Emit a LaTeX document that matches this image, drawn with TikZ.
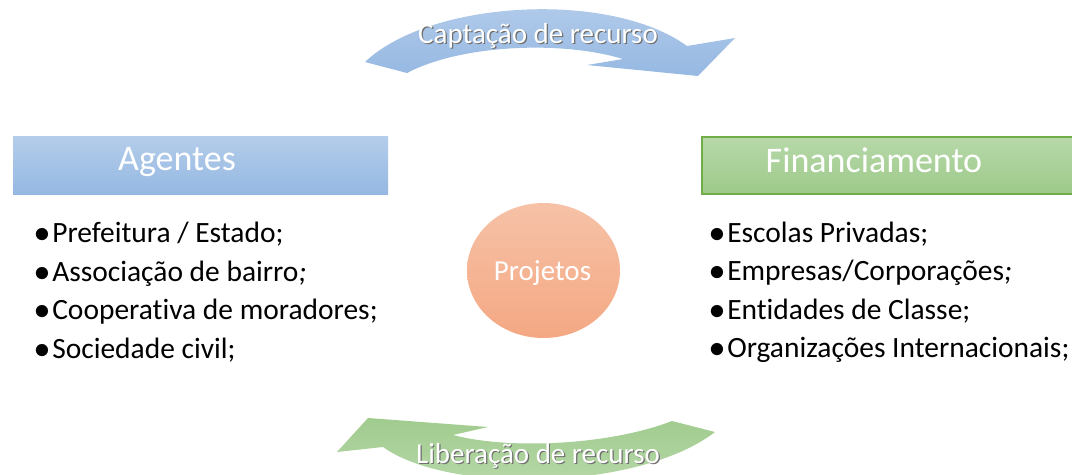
\documentclass[tikz,border=0pt]{standalone}
\usepackage{fontspec}
\setmainfont{Carlito}[Ligatures=NoCommon]
\usepackage{graphicx}
\usepackage{tikz}

\definecolor{agtop}{RGB}{180,205,234}
\definecolor{agbot}{RGB}{149,184,226}
\definecolor{fintop}{RGB}{183,216,169}
\definecolor{finbot}{RGB}{157,202,138}
\definecolor{finline}{RGB}{112,173,71}
\definecolor{projtop}{RGB}{246,194,167}
\definecolor{projbot}{RGB}{244,168,131}
\definecolor{captop}{RGB}{182,206,235}
\definecolor{capbot}{RGB}{150,184,226}
\definecolor{libtop}{RGB}{160,203,142}
\definecolor{libbot}{RGB}{186,218,172}
\definecolor{txtshadow}{RGB}{110,110,110}

\newcommand{\listfont}{\fontsize{22.1}{27}\selectfont}
\newcommand{\arrowfont}{\fontsize{21.75}{26}\selectfont}
\newcommand{\headfont}{\fontsize{27}{32}\selectfont}
\newcommand{\blt}{\llap{\scalebox{1.15}{$\bullet$}\hspace{1.5pt}}}
\newcommand{\shtext}[1]{\rlap{\hspace{0.9pt}\raisebox{-0.9pt}{\color{txtshadow}#1}}#1}

\begin{document}
\begin{tikzpicture}[x=0.75pt,y=0.75pt,yscale=-1,xscale=1]
    \useasboundingbox (0,0) rectangle (1072,475);

    %Shape: Curved Arrow [id:captacao]
    \draw  [draw=none][top color=captop, bottom color=capbot] (365,62) .. controls (430,0) and (610,-10) .. (687,46) -- (735,38) -- (698,76) -- (587,65) -- (623,59) .. controls (560,40) and (460,45) .. (407,73) -- cycle ;
    %Shape: Curved Arrow [id:liberacao]
    \draw  [draw=none][top color=libtop, bottom color=libbot] (337,452) -- (368,418) -- (488,427) -- (453,435) .. controls (510,450) and (610,445) .. (672,421) -- (715,432) .. controls (640,490) and (450,495) .. (383,447) -- cycle ;
    %Shape: Rectangle [id:agentes]
    \draw  [draw=none][top color=agtop, bottom color=agbot] (13,136) rectangle (388,194) ;
    %Shape: Rectangle [id:financiamento]
    \draw  [color=finline, line width=1pt][top color=fintop, bottom color=finbot] (702,137) rectangle (1080,194) ;
    %Shape: Ellipse [id:projetos]
    \draw  [draw=none][top color=projtop, bottom color=projbot] (543.5,270.5) ellipse (76.5 and 67.5) ;

    % Text Node
    \draw (538,43) node (captxt) [anchor=base][inner sep=0pt][font=\arrowfont, color=white]  {\shtext{Captação de recurso}};
    % Text Node
    \draw (538,463) node (libtxt) [anchor=base][inner sep=0pt][font=\arrowfont, color=white]  {\shtext{Liberação de recurso}};
    % Text Node
    \draw (177,170) node (agtxt) [anchor=base][inner sep=0pt][font=\headfont, color=white]  {Agentes};
    % Text Node
    \draw (874,172) node (fintxt) [anchor=base][inner sep=0pt][font=\headfont, color=white]  {Financiamento};
    % Text Node
    \draw (542.5,280) node (projtxt) [anchor=base][inner sep=0pt][font=\arrowfont, color=white]  {Projetos};

    % Text Node
    \draw (52,242.5) node (ag1) [anchor=base west][inner sep=0pt][font=\listfont]  {\blt Prefeitura / Estado;};
    % Text Node
    \draw (52,281) node (ag2) [anchor=base west][inner sep=0pt][font=\listfont]  {\blt Associação de bairro\textit{;}};
    % Text Node
    \draw (52,319.5) node (ag3) [anchor=base west][inner sep=0pt][font=\listfont]  {\blt Cooperativa de moradores;};
    % Text Node
    \draw (52,358) node (ag4) [anchor=base west][inner sep=0pt][font=\listfont]  {\blt Sociedade civil;};

    % Text Node
    \draw (727,242) node (fin1) [anchor=base west][inner sep=0pt][font=\listfont]  {\blt Escolas Privadas;};
    % Text Node
    \draw (727,280.5) node (fin2) [anchor=base west][inner sep=0pt][font=\listfont]  {\blt Empresas/Corporações\textit{;}};
    % Text Node
    \draw (727,319) node (fin3) [anchor=base west][inner sep=0pt][font=\listfont]  {\blt Entidades de Classe;};
    % Text Node
    \draw (727,357.5) node (fin4) [anchor=base west][inner sep=0pt][font=\listfont]  {\blt Organizações Internacionais;};

\end{tikzpicture}
\end{document}
